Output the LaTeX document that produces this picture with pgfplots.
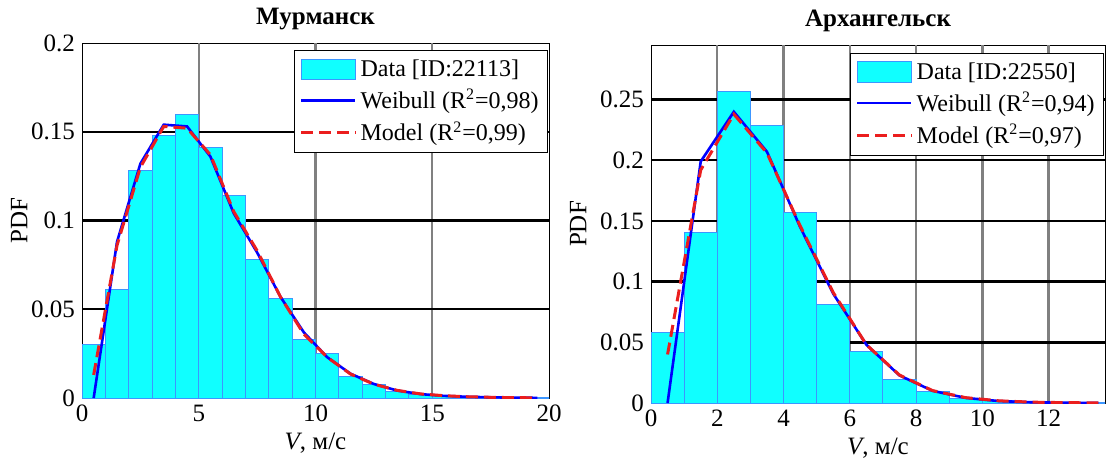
\documentclass[border=0pt]{standalone}
\usepackage{fontspec}
\setmainfont{Liberation Serif}
\usepackage{pgfplots}
\pgfplotsset{compat=1.18}

\definecolor{barfill}{RGB}{16,255,255}
\definecolor{baredge}{RGB}{60,150,255}
\definecolor{wblue}{RGB}{0,0,255}
\definecolor{mred}{RGB}{235,30,30}
\definecolor{gridgray}{RGB}{128,128,128}

\pgfplotsset{
  pdfstyle/.style={
    scale only axis,
    anchor=north west,
    font=\fontsize{12}{14}\selectfont,
    ticklabel style={font=\fontsize{12.5}{14}\selectfont},
    /pgf/number format/assume math mode=true,
    /pgf/number format/fixed,
    /pgf/number format/precision=2,
    scaled y ticks=false,
    tick align=inside,
    major tick length=3pt,
    tick style={black, line width=0.4pt},
    axis line style={black, line width=0.5pt},
    title style={font=\fontsize{12.5}{14}\selectfont\bfseries, yshift=-3pt},
    label style={font=\fontsize{12.5}{14}\selectfont},
    xlabel style={yshift=1.5pt},
    extra x tick labels={},
    extra y tick labels={},
    extra x tick style={xmajorgrids=true, major x grid style={gridgray, line width=1.2pt}, major tick length=0pt},
    extra y tick style={ymajorgrids=true, major y grid style={black, line width=1.2pt}, major tick length=0pt},
    legend cell align=left,
    legend style={anchor=north east, draw=black, line width=0.5pt,
      font=\fontsize{12}{14}\selectfont, row sep=1pt, inner sep=2.5pt},
    ymin=0,
  },
  barleg/.style={legend image code/.code={\draw[fill=barfill, draw=baredge, line width=0.5pt] (0cm,-0.18cm) rectangle (0.95cm,0.18cm);}},
  lineleg/.style={legend image code/.code={\draw[##1] (0cm,0cm) -- (0.95cm,0cm);}},
}

\begin{document}
\begin{tikzpicture}
\path[use as bounding box] (0,0) rectangle (554.5pt,-228.5pt);

% Мурманск
\begin{axis}[pdfstyle,
  at={(41pt,-21.5pt)}, width=233.5pt, height=177.5pt,
  title={Мурманск},
  xlabel={\textit{V}, м/с}, ylabel={PDF},
  ylabel shift=-5pt,
  xmin=0, xmax=20, ymax=0.2,
  xtick={0,5,10,15,20},
  ytick={0,0.05,0.1,0.15,0.2},
  extra x ticks={5,10,15},
  extra y ticks={0.05,0.1,0.15},
  legend style={at={(rel axis cs:0.998,0.98)}},
]
\addplot[ybar, bar width=1, fill=barfill, draw=baredge, line width=0.5pt, barleg]
  coordinates {(0.5,0.030)(1.5,0.061)(2.5,0.128)(3.5,0.148)(4.5,0.160)(5.5,0.141)
    (6.5,0.114)(7.5,0.078)(8.5,0.056)(9.5,0.033)(10.5,0.025)(11.5,0.012)
    (12.5,0.0077)(13.5,0.0036)(14.5,0.002)(15.5,0.0012)(16.5,0.0007)
    (17.5,0.0004)(18.5,0.0002)(19.5,0.0001)};
\addlegendentry{Data [ID:22113]}
\addplot[wblue, line width=1.3pt, lineleg]
  coordinates {(0.5,0)(1.5,0.088)(2.5,0.132)(3.5,0.154)(4.5,0.153)(5.5,0.136)
    (6.5,0.104)(7.5,0.082)(8.5,0.057)(9.5,0.037)(10.5,0.023)(11.5,0.0137)
    (12.5,0.0079)(13.5,0.0042)(14.5,0.0022)(15.5,0.0012)(16.5,0.0007)
    (17.5,0.0004)(18.5,0.0002)(19.5,0.0001)};
\addlegendentry{Weibull (R\textsuperscript{2}=0,98)}
\addplot[mred, line width=1.5pt, dash pattern=on 6pt off 3pt, lineleg]
  coordinates {(0.5,0.013)(1.5,0.086)(2.5,0.130)(3.5,0.153)(4.5,0.152)(5.5,0.137)
    (6.5,0.105)(7.5,0.083)(8.5,0.057)(9.5,0.036)(10.5,0.023)(11.5,0.0135)
    (12.5,0.0078)(13.5,0.0043)(14.5,0.0023)(15.5,0.0013)(16.5,0.0007)
    (17.5,0.0004)(18.5,0.0002)(19.5,0.0001)};
\addlegendentry{Model (R\textsuperscript{2}=0,99)}
\end{axis}

% Архангельск
\begin{axis}[pdfstyle,
  at={(325.5pt,-22.5pt)}, width=227pt, height=179pt,
  title={Архангельск},
  xlabel={\textit{V}, м/с}, ylabel={PDF},
  xmin=0, xmax=13.7, ymax=0.295,
  xtick={0,2,4,6,8,10,12},
  ytick={0,0.05,0.1,0.15,0.2,0.25},
  extra x ticks={2,4,6,8,10,12},
  extra y ticks={0.05,0.1,0.15,0.2,0.25},
  legend style={at={(rel axis cs:0.998,0.978)}},
]
\addplot[ybar, bar width=1, fill=barfill, draw=baredge, line width=0.5pt, barleg]
  coordinates {(0.5,0.0585)(1.5,0.1406)(2.5,0.2565)(3.5,0.2285)(4.5,0.157)
    (5.5,0.0815)(6.5,0.0426)(7.5,0.0196)(8.5,0.0098)(9.5,0.004)(10.5,0.002)
    (11.5,0.001)(12.5,0.0005)(13.5,0.0002)};
\addlegendentry{Data [ID:22550]}
\addplot[wblue, line width=1.3pt, lineleg]
  coordinates {(0.5,0)(1.5,0.199)(2.5,0.240)(3.5,0.207)(4.5,0.145)(5.5,0.090)
    (6.5,0.048)(7.5,0.0227)(8.5,0.010)(9.5,0.0042)(10.5,0.0016)(11.5,0.0006)
    (12.5,0.0002)(13.5,0.0001)};
\addlegendentry{Weibull (R\textsuperscript{2}=0,94)}
\addplot[mred, line width=1.5pt, dash pattern=on 6pt off 3pt, lineleg]
  coordinates {(0.5,0.040)(1.5,0.192)(2.5,0.238)(3.5,0.206)(4.5,0.146)(5.5,0.091)
    (6.5,0.048)(7.5,0.023)(8.5,0.0102)(9.5,0.0044)(10.5,0.0018)(11.5,0.0007)
    (12.5,0.0003)(13.5,0.0001)};
\addlegendentry{Model (R\textsuperscript{2}=0,97)}
\end{axis}
\end{tikzpicture}
\end{document}
